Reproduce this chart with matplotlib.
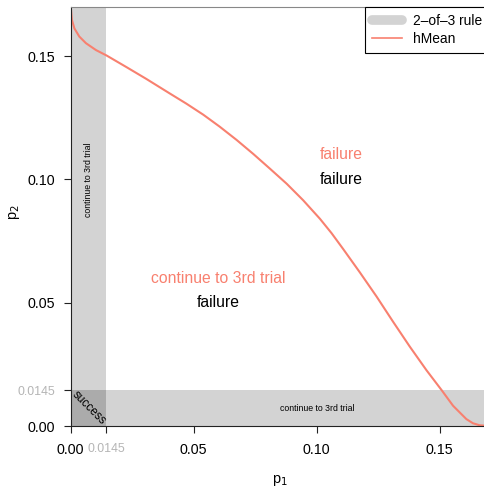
import numpy as np
import matplotlib.pyplot as plt
from matplotlib.lines import Line2D
from matplotlib.patches import Rectangle

plt.rcParams['font.family'] = ['Liberation Sans', 'DejaVu Sans']

# threshold of the 2-of-3 rule
cut = 0.0145

# hMean boundary
p1_curve = [0.0000, 0.0005, 0.0015, 0.0035, 0.0062, 0.0103, 0.0146, 0.0225,
            0.0306, 0.0403, 0.0470, 0.0539, 0.0605, 0.0674, 0.0742, 0.0810,
            0.0878, 0.0945, 0.1013, 0.1060, 0.1107, 0.1175, 0.1243, 0.1310,
            0.1378, 0.1446, 0.1507, 0.1554, 0.1608, 0.1635, 0.1662, 0.1700]
p2_curve = [0.1701, 0.1646, 0.1612, 0.1579, 0.1552, 0.1524, 0.1502, 0.1456,
            0.1408, 0.1348, 0.1307, 0.1262, 0.1214, 0.1160, 0.1103, 0.1043,
            0.0982, 0.0915, 0.0840, 0.0782, 0.0718, 0.0623, 0.0525, 0.0423,
            0.0322, 0.0226, 0.0146, 0.0082, 0.0028, 0.0011, 0.0003, 0.0000]

tick_vals = [0.0, cut, 0.05, 0.10, 0.15]
tick_labels = ['0.00', '0.0145', '0.05', '0.10', '0.15']

salmon = '#F8806F'
light = '#B5B5B5'
band = '#D3D3D3'

fig = plt.figure(figsize=(4.85, 4.88), dpi=100)
ax = fig.add_axes([70.7 / 485, 62 / 488, (489 - 70.7) / 485, (426 - 6.7) / 488])
ax.set_xlim(0, 0.17)
ax.set_ylim(0, 0.17)

# 2-of-3 rule regions, overlap is darker
ax.axvspan(0, cut, color=band, lw=0)
ax.axhspan(0, cut, color=band, lw=0)
ax.add_patch(Rectangle((0, 0), cut, cut, color='#ABABAB', lw=0))

ax.plot(p1_curve, p2_curve, color=salmon, lw=1.5)

# region labels
ax.text(0.11, 0.11, 'failure', color=salmon, fontsize=11.3, ha='center', va='center')
ax.text(0.11, 0.10, 'failure', color='black', fontsize=11.3, ha='center', va='center')
ax.text(0.06, 0.06, 'continue to 3rd trial', color=salmon, fontsize=11.3, ha='center', va='center')
ax.text(0.06, 0.05, 'failure', color='black', fontsize=11.3, ha='center', va='center')
ax.text(cut / 2, 0.10, 'continue to 3rd trial', fontsize=6.3, rotation=90, ha='center', va='center')
ax.text(0.10, cut / 2, 'continue to 3rd trial', fontsize=6.3, ha='center', va='center')
ax.text(cut / 2, cut / 2, 'success', fontsize=8.5, rotation=-45, ha='center', va='center')

# axes styling, R base look
ax.spines['right'].set_visible(False)
ax.spines['top'].set_color('#888888')
ax.spines['left'].set_color('#222222')
ax.spines['bottom'].set_color('#222222')
ax.set_xticks(tick_vals)
ax.set_xticklabels(tick_labels)
ax.set_yticks(tick_vals)
ax.set_yticklabels(tick_labels)
ax.tick_params(axis='x', length=5, pad=7, labelsize=10.3, color='#222222')
ax.tick_params(axis='y', length=5, pad=6, labelsize=10.3, color='#222222')
for axis in (ax.xaxis, ax.yaxis):
    t = axis.get_major_ticks()[1]
    t.tick1line.set_color(light)
    t.label1.set_color(light)
    t.label1.set_fontsize(8.9)

fig.text(280 / 485, 1 - 480 / 488, 'p$_1$', fontsize=10.5, ha='center', va='center')
fig.text(15 / 485, 1 - 212 / 488, 'p$_2$', fontsize=10.5, rotation=90, ha='center', va='center')

handles = [Line2D([], [], color=band, lw=7, solid_capstyle='round'),
           Line2D([], [], color=salmon, lw=1.2)]
leg = ax.legend(handles, ['2\u2013of\u20133 rule', 'hMean'], loc='upper right',
                fontsize=9.9, fancybox=False, edgecolor='black', framealpha=1,
                borderaxespad=0, handlelength=2.2, borderpad=0.5, labelspacing=0.3)
leg.get_frame().set_linewidth(0.8)

plt.savefig('out.png', dpi=100)
